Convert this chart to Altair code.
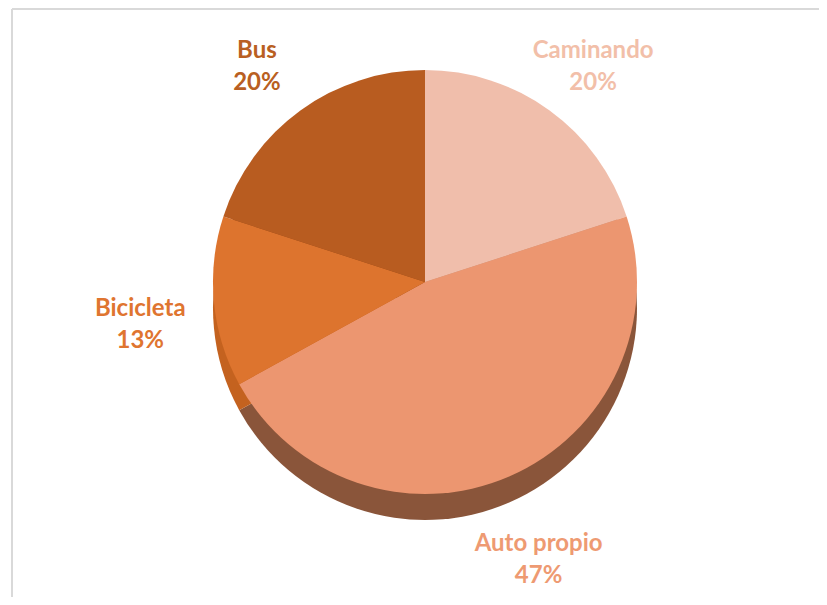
import altair as alt
import pandas as pd

modes = ["Caminando", "Auto propio", "Bicicleta", "Bus"]
percents = [20, 47, 13, 20]
order_idx = [0, 1, 2, 3]

top_colors = ["#F0BEAB", "#EC9670", "#DD742E", "#B85C20"]
side_colors = ["#C9957F", "#8A553A", "#C4621F", "#9A4A18"]
label_colors = ["#F2BFA9", "#EE9A72", "#DF7530", "#B95F22"]

df = pd.DataFrame({
    "modo": modes,
    "pct": percents,
    "orden": order_idx,
    "label": [f"{m}\n{p}%" for m, p in zip(modes, percents)],
})

W, H = 811, 589
CX, CY = 417, 274
R = 212
DEPTH = 26
RL = 286

base = alt.Chart(df).encode(
    theta=alt.Theta("pct:Q", stack=True),
    order=alt.Order("orden:Q", sort="ascending"),
)

side = base.mark_arc(strokeWidth=0).encode(
    color=alt.Color("modo:N", scale=alt.Scale(domain=modes, range=side_colors), legend=None),
    x=alt.value(CX), y=alt.value(CY + DEPTH), radius=alt.value(R),
)

top = base.mark_arc(strokeWidth=0).encode(
    color=alt.Color("modo:N", scale=alt.Scale(domain=modes, range=top_colors), legend=None),
    x=alt.value(CX), y=alt.value(CY), radius=alt.value(R),
)

labels = base.mark_text(
    font="Lato", fontWeight="bold", fontSize=24, lineBreak="\n",
    align="center", baseline="middle", lineHeight=32,
).encode(
    text="label:N",
    color=alt.Color("modo:N", scale=alt.Scale(domain=modes, range=label_colors), legend=None),
    x=alt.value(CX), y=alt.value(CY), radius=alt.value(RL),
)

border_left = alt.Chart(df).mark_rule(color="#D9D9D9", strokeWidth=2).encode(
    x=alt.value(4), y=alt.value(1), y2=alt.value(H)
)
border_top = alt.Chart(df).mark_rule(color="#D9D9D9", strokeWidth=2).encode(
    x=alt.value(4), x2=alt.value(W), y=alt.value(1)
)

chart = alt.layer(border_left, border_top, side, top, labels).resolve_scale(
    color="independent"
).properties(
    width=W, height=H, padding=0,
    autosize=alt.AutoSizeParams(type="fit", contains="padding"),
).configure_view(stroke=None)

chart.save("out.html", embed_options={"renderer": "svg", "actions": False})
